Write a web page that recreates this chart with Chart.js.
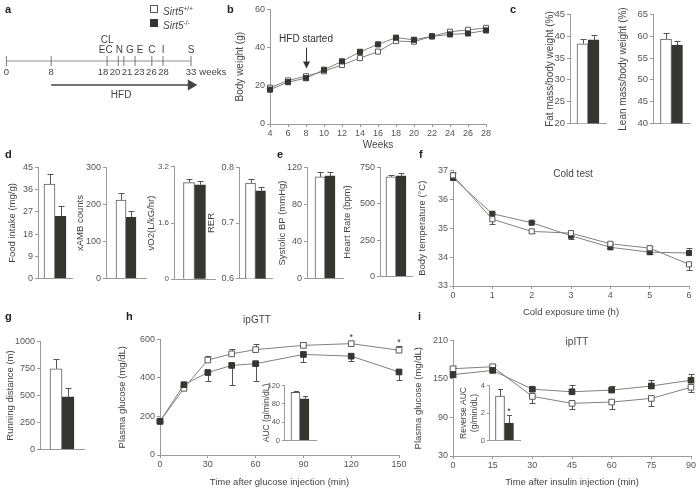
<!DOCTYPE html>
<html>
<head>
<meta charset="utf-8">
<script src="https://cdn.jsdelivr.net/npm/chart.js@4"></script>
<style>
body { margin: 0; background: #fff; }
#fig { position: relative; width: 698px; height: 491px; overflow: hidden; font-family: 'Liberation Sans', Arial, sans-serif; color: #444; }
.let { position: absolute; font-weight: bold; font-size: 11px; line-height: 11px; color: #222; filter: grayscale(1); }
.txt { position: absolute; font-size: 10px; line-height: 10px; white-space: nowrap; color: #444; filter: grayscale(1); }
.ctr { width: 100px; text-align: center; }
.sq { position: absolute; width: 6px; height: 6px; border: 1px solid #555; }
.sup { font-size: 6.5px; vertical-align: 4px; }
canvas { position: absolute; }
</style>
</head>
<body>
<div id="fig">
  <div class="let" style="left:5px;top:4px">a</div>
  <div class="let" style="left:227px;top:4px">b</div>
  <div class="let" style="left:510px;top:4px">c</div>
  <div class="let" style="left:5px;top:149px">d</div>
  <div class="let" style="left:277px;top:149px">e</div>
  <div class="let" style="left:419px;top:149px">f</div>
  <div class="let" style="left:5px;top:311px">g</div>
  <div class="let" style="left:126px;top:311px">h</div>
  <div class="let" style="left:418px;top:311px">i</div>

  <div class="sq" style="left:150px;top:5px;background:#fff"></div>
  <div class="txt" style="left:163px;top:4px"><i>Sirt5</i><span class="sup">+/+</span></div>
  <div class="sq" style="left:150px;top:19px;background:#34372f;border-color:#34372f"></div>
  <div class="txt" style="left:163px;top:18px"><i>Sirt5</i><span class="sup">-/-</span></div>

  <div class="txt ctr" style="left:523px;top:169px">Cold test</div>
  <div class="txt ctr" style="left:207px;top:315px">ipGTT</div>
  <div class="txt ctr" style="left:527px;top:337px">ipITT</div>
</div>
<script>
// ---------- data ----------
// a: study timeline (weeks)
const timelineWeeks = [0, 8, 18, 20, 21, 23, 26, 28, 33];
const eventWeeks = [18, 20, 21, 23, 26, 28, 33];
const eventLabels = [['CL', 'EC'], 'N', 'G', 'E', 'C', 'I', 'S'];
const hfdWeeks = [8, 33];

// b: body weight (g)
const bwWeeks = [4, 6, 8, 10, 12, 14, 16, 18, 20, 22, 24, 26, 28];
const bwWT = [19, 22.8, 25, 27.6, 30.9, 34.5, 37.9, 43.4, 43.1, 45.9, 48.3, 49.3, 50.3];
const bwKO = [18, 21.9, 24, 28.4, 32.8, 37.8, 41.7, 45.2, 44.1, 45.9, 46.9, 47.4, 49];

// bar panels: [Sirt5+/+, Sirt5-/-]
const fatMass = [38.3, 39.2];        const fatMassErr = [1.2, 1.2];
const leanMass = [59.4, 58.0];       const leanMassErr = [1.3, 0.9];
const foodIntake = [38.2, 25.2];     const foodIntakeErr = [4.3, 4.1];
const xamb = [212, 165];             const xambErr = [19, 18];
const vo2 = [2.75, 2.69];            const vo2Err = [0.11, 0.11];
const rer = [0.772, 0.758];          const rerErr = [0.008, 0.007];
const systolicBP = [109.8, 110.8];   const systolicBPErr = [5.4, 4.4];
const heartRate = [686, 692];        const heartRateErr = [13, 17];
const runDistance = [746, 487];      const runDistanceErr = [92, 81];

// f: cold test
const coldHours = [0, 1, 2, 3, 4, 5, 6];
const coldWT = [36.83, 35.31, 34.89, 34.83, 34.46, 34.31, 33.75];
const coldWTErr = [0.12, -0.17, -0.07, -0.05, 0.05, 0.06, -0.2];
const coldKO = [36.74, 35.5, 35.19, 34.74, 34.34, 34.17, 34.14];
const coldKOErr = [-0.06, 0.05, 0.05, -0.13, -0.05, -0.08, 0.17];

// h: ipGTT
const gttMin = [0, 15, 30, 45, 60, 90, 120, 150];
const gttWT = [175, 346, 493, 525, 547, 569, 578, 544];
const gttWTErr = [0, 0, 20, 27, 29, 17, 12, 20];
const gttKO = [175, 365, 428, 465, 474, 522, 513, 431];
const gttKOErr = [0, 0, -43, -100, -92, -38, -26, -42];
const gttStars = [false, false, false, false, false, false, true, true];
const gttAUC = [105, 91];            const gttAUCErr = [2, 7];

// i: ipITT
const ittMin = [0, 15, 30, 45, 60, 75, 90];
const ittWT = [165.9, 169, 122.8, 112, 114, 119.7, 137];
const ittWTErr = [4, 3, -10, -9, -11, -12, -7.5];
const ittKO = [156.7, 163.3, 134, 130, 132.6, 139, 148];
const ittKOErr = [-3, 0, 0, 10, 6.4, 10, 9];
const ittAUC = [3.23, 1.27];         const ittAUCErr = [0.55, 0.61];
const ittAUCStars = [false, true];

// ---------- style ----------
const FONT = "'Liberation Sans', Arial, sans-serif";
const WT_FILL = '#ffffff', WT_LINE = '#5a5a5a', KO_FILL = '#34372f';
const AX = '#9a9a9a', TXT = '#444', LINE = '#808080';

Chart.defaults.font.family = FONT;
Chart.defaults.font.size = 9;
Chart.defaults.color = '#555';
Chart.defaults.animation = false;
Chart.defaults.responsive = false;
Chart.defaults.events = [];
Chart.defaults.plugins.legend.display = false;
Chart.defaults.plugins.tooltip.enabled = false;

// one-sided error bars (signed values) and significance stars
const errorBars = {
  id: 'errorBars',
  beforeDatasetsDraw(chart, args, opts) {
    const {ctx} = chart, ys = chart.scales.y;
    const cap = opts.cap || 3;
    ctx.save();
    ctx.strokeStyle = '#555';
    ctx.lineWidth = 1;
    chart.data.datasets.forEach((ds, di) => {
      if (!ds.errors) return;
      chart.getDatasetMeta(di).data.forEach((el, i) => {
        const raw = ds.data[i], e = ds.errors[i];
        if (!e) return;
        const v = typeof raw === 'object' ? raw.y : raw;
        const x = Math.round(el.x) + 0.5;
        const y0 = ys.getPixelForValue(v), y1 = Math.round(ys.getPixelForValue(v + e)) + 0.5;
        ctx.beginPath();
        ctx.moveTo(x, y0); ctx.lineTo(x, y1);
        ctx.moveTo(x - cap, y1); ctx.lineTo(x + cap, y1);
        ctx.stroke();
      });
    });
    ctx.restore();
  },
  afterDatasetsDraw(chart) {
    const {ctx} = chart, ys = chart.scales.y;
    ctx.save();
    ctx.fillStyle = '#333';
    ctx.font = '9px ' + FONT;
    ctx.textAlign = 'center';
    ctx.textBaseline = 'alphabetic';
    chart.data.datasets.forEach((ds, di) => {
      if (!ds.stars) return;
      chart.getDatasetMeta(di).data.forEach((el, i) => {
        if (!ds.stars[i]) return;
        const raw = ds.data[i];
        const v = typeof raw === 'object' ? raw.y : raw;
        const e = (ds.errors && ds.errors[i]) || 0;
        const top = Math.min(ys.getPixelForValue(v), ys.getPixelForValue(v + e));
        ctx.fillText('*', el.x, top - 1);
      });
    });
    ctx.restore();
  }
};

// free text and arrows placed in data units
const notes = {
  id: 'notes',
  afterDraw(chart, args, o) {
    const {ctx} = chart, xs = chart.scales.x, ys = chart.scales.y;
    ctx.save();
    (o.texts || []).forEach(t => {
      ctx.font = (t.size || 9.5) + 'px ' + FONT;
      ctx.fillStyle = t.color || TXT;
      ctx.textAlign = t.align || 'center';
      ctx.textBaseline = 'middle';
      ctx.fillText(t.text, xs.getPixelForValue(t.x) + (t.dx || 0), ys.getPixelForValue(t.y) + (t.dy || 0));
    });
    (o.arrows || []).forEach(a => {
      const x = Math.round(xs.getPixelForValue(a.x)) + 0.5;
      const y0 = ys.getPixelForValue(a.y0), y1 = ys.getPixelForValue(a.y1);
      ctx.strokeStyle = ctx.fillStyle = '#333';
      ctx.lineWidth = 1;
      ctx.beginPath(); ctx.moveTo(x, y0); ctx.lineTo(x, y1 - 6); ctx.stroke();
      ctx.beginPath(); ctx.moveTo(x - 3.5, y1 - 7); ctx.lineTo(x + 3.5, y1 - 7); ctx.lineTo(x, y1); ctx.closePath(); ctx.fill();
    });
    ctx.restore();
  }
};

// push overlapping labels apart, keeping each group centred on its marks
function spread(items, gap) {
  let groups = items.map(it => ({items: [it], width: it.w}));
  const centre = g => g.items.reduce((s, it) => s + it.px, 0) / g.items.length;
  let merged = true;
  while (merged) {
    merged = false;
    for (let i = 0; i < groups.length - 1; i++) {
      const a = groups[i], b = groups[i + 1];
      if (centre(a) + a.width / 2 + gap > centre(b) - b.width / 2) {
        groups.splice(i, 2, {items: a.items.concat(b.items), width: a.width + gap + b.width});
        merged = true;
        break;
      }
    }
  }
  groups.forEach(g => {
    let x = centre(g) - g.width / 2;
    g.items.forEach(it => { it.x = x + it.w / 2; x += it.w + gap; });
  });
  return items;
}

// week numbers, event letters and HFD label on the timeline
const timelineText = {
  id: 'timelineText',
  afterDraw(chart) {
    const {ctx} = chart, xs = chart.scales.x, ys = chart.scales.y;
    const yLine = ys.getPixelForValue(1), yArrow = ys.getPixelForValue(0);
    ctx.save();
    ctx.fillStyle = TXT;
    ctx.textBaseline = 'middle';
    ctx.textAlign = 'center';
    const row = (labels, weeks, y, gap) => {
      const items = labels.map((s, i) => ({s, px: xs.getPixelForValue(weeks[i]), w: ctx.measureText(s).width}));
      spread(items, gap).forEach(it => ctx.fillText(it.s, it.x, y));
      return items;
    };
    ctx.font = '9.5px ' + FONT;
    const nums = row(timelineWeeks.map(String), timelineWeeks, yLine + 11, 1.5);
    const last = nums[nums.length - 1];
    ctx.textAlign = 'left';
    ctx.fillText('weeks', last.x + last.w / 2 + 3, yLine + 11);
    ctx.textAlign = 'center';
    ctx.font = '10px ' + FONT;
    const depth = Math.max(...eventLabels.map(l => [].concat(l).length));
    for (let k = 0; k < depth; k++) {
      const labs = [], wks = [];
      eventLabels.forEach((l, i) => {
        const stack = [].concat(l);
        if (stack.length > k) { labs.push(stack[stack.length - 1 - k]); wks.push(eventWeeks[i]); }
      });
      row(labs, wks, yLine - 11 - 10 * k, 3);
    }
    ctx.fillText('HFD', xs.getPixelForValue((hfdWeeks[0] + hfdWeeks[1]) / 2), yArrow + 10);
    ctx.restore();
  }
};
Chart.register(errorBars, notes);

// ---------- layout helpers ----------
function makeCanvas(left, top, w, h) {
  const c = document.createElement('canvas');
  c.width = w; c.height = h;
  c.style.left = left + 'px'; c.style.top = top + 'px';
  c.style.width = w + 'px'; c.style.height = h + 'px';
  document.getElementById('fig').appendChild(c);
  return c;
}

// area = [left, top, right, bottom] of the plot area on the page
function frame(o) {
  const fs = o.titleSize || 9.5, lh = fs * 1.2;
  const [l, t, r, b] = o.area;
  const left = Math.round(o.titleX - lh / 2);
  const top = t - 6;
  const xH = o.xTitle ? Math.round(o.xTitleY + lh / 2 - b) : 1;
  const right = r + (o.padRight || 4);
  const canvas = makeCanvas(left, top, right - left, b + xH - top);
  return {canvas, yW: l - left, xH, fs, padRight: right - r};
}

const fmt = v => String(+v.toFixed(2));

function yAxis(f, o) {
  return {
    min: o.min, max: o.max,
    afterFit: s => { s.width = f.yW; },
    border: {color: AX},
    grid: {drawOnChartArea: false, tickLength: o.tickLen || 3, color: AX},
    ticks: {stepSize: o.step, padding: 2, font: {size: o.tickSize || 9}, callback: fmt},
    title: {display: true, text: o.title, color: TXT, font: {size: f.fs}, padding: 0}
  };
}

function barPanel(o) {
  const f = frame(o);
  return new Chart(f.canvas, {
    type: 'bar',
    data: {
      labels: [''],
      datasets: [
        {data: [o.values[0]], errors: [o.errors[0]], stars: o.stars ? [o.stars[0]] : null,
         backgroundColor: WT_FILL, borderColor: WT_LINE, borderWidth: 1, barThickness: o.thick},
        {data: [o.values[1]], errors: [o.errors[1]], stars: o.stars ? [o.stars[1]] : null,
         backgroundColor: KO_FILL, borderColor: KO_FILL, borderWidth: 1, barThickness: o.thick}
      ]
    },
    options: {
      layout: {padding: {top: 6, right: f.padRight}},
      scales: {
        x: {afterFit: s => { s.height = f.xH; }, border: {color: AX},
            grid: {drawOnChartArea: false, drawTicks: false}, ticks: {display: false}},
        y: yAxis(f, o)
      },
      plugins: {errorBars: {cap: o.cap || 3}}
    }
  });
}

function series(xs, ys, errs, filled, radius, stars) {
  return {
    data: xs.map((x, i) => ({x, y: ys[i]})),
    errors: errs, stars: stars || null,
    borderColor: LINE, borderWidth: 1,
    pointStyle: 'rect', pointRadius: radius,
    pointBackgroundColor: filled ? KO_FILL : WT_FILL,
    pointBorderColor: filled ? KO_FILL : WT_LINE,
    pointBorderWidth: 1, clip: false
  };
}

function linePanel(o) {
  const f = frame(Object.assign({padRight: 10}, o));
  return new Chart(f.canvas, {
    type: 'line',
    data: {datasets: o.datasets},
    options: {
      layout: {padding: {top: 6, right: f.padRight}},
      scales: {
        x: {type: 'linear', min: o.xMin, max: o.xMax,
            afterFit: s => { s.height = f.xH; },
            border: {color: AX},
            grid: {drawOnChartArea: false, tickLength: 3, color: AX},
            ticks: {stepSize: o.xStep, padding: 1, maxRotation: 0, autoSkip: false, font: {size: 9}},
            title: {display: true, text: o.xTitle, color: TXT, font: {size: f.fs}, padding: 0}},
        y: yAxis(f, o)
      },
      plugins: {errorBars: {cap: 3}, notes: o.notes || {}}
    }
  });
}

// ---------- a: timeline ----------
new Chart(makeCanvas(0, 0, 240, 100), {
  type: 'line',
  data: {datasets: [
    {data: timelineWeeks.map(w => ({x: w, y: 1})), borderColor: '#b4b4b4', borderWidth: 1.4,
     pointStyle: 'line', pointRotation: 90, pointRadius: 5, pointBorderColor: '#777', pointBorderWidth: 1, clip: false},
    {data: hfdWeeks.map(w => ({x: w, y: 0})), borderColor: '#444', borderWidth: 1.4,
     pointStyle: 'triangle', pointRotation: 90, pointRadius: [0, 5],
     pointBackgroundColor: '#444', pointBorderColor: '#444', clip: false}
  ]},
  options: {
    layout: {padding: {left: 6, right: 49, top: 61, bottom: 15}},
    scales: {x: {type: 'linear', min: 0, max: 33, display: false}, y: {min: 0, max: 1, display: false}}
  },
  plugins: [timelineText]
});

// ---------- b: body weight ----------
linePanel({
  area: [270, 8, 486, 124], titleX: 240, xTitleY: 145, titleSize: 10,
  title: 'Body weight (g)', xTitle: 'Weeks',
  min: 0, max: 60, step: 20, xMin: 4, xMax: 28, xStep: 2,
  datasets: [series(bwWeeks, bwKO, null, true, 3.6), series(bwWeeks, bwWT, null, false, 3.6)],
  notes: {
    texts: [{x: 8, y: 44.5, text: 'HFD started', size: 10, color: '#333'}],
    arrows: [{x: 8, y0: 40, y1: 29}]
  }
});

// ---------- c ----------
barPanel({area: [570, 13, 606, 130], titleX: 550, titleSize: 10, tickSize: 9.5, title: 'Fat mass/body weight (%)',
  min: 20, max: 45, step: 5, thick: 11, values: fatMass, errors: fatMassErr});
barPanel({area: [653, 13, 690, 130], titleX: 623, titleSize: 10, tickSize: 9.5, title: 'Lean mass/body weight (%)',
  min: 40, max: 65, step: 5, thick: 11, values: leanMass, errors: leanMassErr});

// ---------- d ----------
barPanel({area: [38, 166, 72, 285], titleX: 13, title: 'Food intake (mg/g)',
  min: 0, max: 45, step: 9, thick: 11, values: foodIntake, errors: foodIntakeErr});
barPanel({area: [106, 166, 146, 285], titleX: 81, title: 'xAMB counts',
  min: 0, max: 300, step: 100, thick: 10, values: xamb, errors: xambErr});
barPanel({area: [174, 166, 215, 285], titleX: 152, title: 'vO2(L/kG/hr)',
  min: 0, max: 3.2, step: 1.6, thick: 11, tickSize: 8, values: vo2, errors: vo2Err});
barPanel({area: [239, 166, 272, 285], titleX: 212, title: 'RER',
  min: 0.6, max: 0.8, step: 0.1, thick: 10, values: rer, errors: rerErr});

// ---------- e ----------
barPanel({area: [307, 166, 343, 285], titleX: 283, title: 'Systolic BP (mmHg)',
  min: 0, max: 120, step: 40, thick: 10, values: systolicBP, errors: systolicBPErr});
barPanel({area: [380, 166, 412, 283], titleX: 348, title: 'Heart Rate (bpm)',
  min: 0, max: 750, step: 250, thick: 10, values: heartRate, errors: heartRateErr});

// ---------- f: cold test ----------
linePanel({
  area: [453, 169, 689, 286], titleX: 423, xTitleY: 312,
  title: 'Body temperature (°C)', xTitle: 'Cold exposure time (h)',
  min: 33, max: 37, step: 1, xMin: 0, xMax: 6, xStep: 1,
  datasets: [series(coldHours, coldWT, coldWTErr, false, 3.6), series(coldHours, coldKO, coldKOErr, true, 3.6)]
});

// ---------- g ----------
barPanel({area: [40, 340, 84, 456], titleX: 11, title: 'Running distance (m)',
  min: 0, max: 1000, step: 250, thick: 12, values: runDistance, errors: runDistanceErr});

// ---------- h: ipGTT ----------
linePanel({
  area: [160, 338, 399, 455], titleX: 123, xTitleY: 482,
  title: 'Plasma glucose (mg/dL)', xTitle: 'Time after glucose injection (min)',
  min: 0, max: 600, step: 200, xMin: 0, xMax: 150, xStep: 30,
  datasets: [series(gttMin, gttKO, gttKOErr, true, 4), series(gttMin, gttWT, gttWTErr, false, 4, gttStars)]
});
barPanel({area: [284, 385, 316, 446], titleX: 267, titleSize: 8.5, tickSize: 7.5, tickLen: 2, cap: 2.5, title: 'AUC (g/min/dL)',
  min: 0, max: 120, step: 40, thick: 9, values: gttAUC, errors: gttAUCErr});

// ---------- i: ipITT ----------
linePanel({
  area: [453, 339, 691, 456], titleX: 419, xTitleY: 482,
  title: 'Plasma glucose (mg/dL)', xTitle: 'Time after insulin injection (min)',
  min: 30, max: 210, step: 60, xMin: 0, xMax: 90, xStep: 15,
  datasets: [series(ittMin, ittKO, ittKOErr, true, 4), series(ittMin, ittWT, ittWTErr, false, 4)]
});
barPanel({area: [489, 385, 520, 446], titleX: 464, titleSize: 8.5, tickSize: 7.5, tickLen: 2, cap: 2.5,
  title: ['Reverse AUC', '(g/min/dL)'],
  min: 0, max: 4, step: 2, thick: 9, values: ittAUC, errors: ittAUCErr, stars: ittAUCStars});
</script>
</body>
</html>
